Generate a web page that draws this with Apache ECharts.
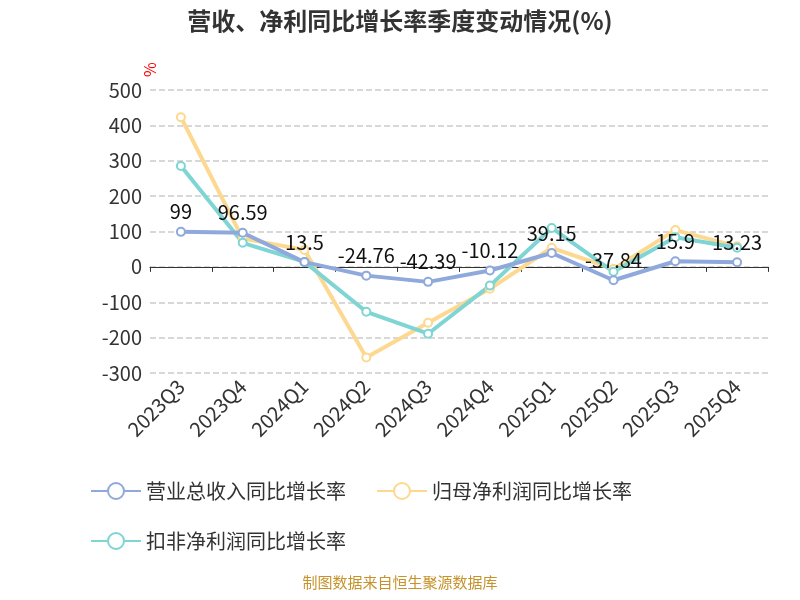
<!DOCTYPE html>
<html>
<head>
<meta charset="utf-8">
<script src="https://cdn.jsdelivr.net/npm/echarts@6/dist/echarts.min.js"></script>
<style>html,body{margin:0;padding:0;background:#fff}#chart{width:800px;height:600px}</style>
</head>
<body>
<div id="chart"></div>
<script>
const categories = ['2023Q3', '2023Q4', '2024Q1', '2024Q2', '2024Q3', '2024Q4', '2025Q1', '2025Q2', '2025Q3', '2025Q4'];
const revenue = [99, 96.59, 13.5, -24.76, -42.39, -10.12, 39.15, -37.84, 15.9, 13.23];
const netProfit = [423, 80, 48, -256, -158, -62, 54, -6, 104, 58];
const deductedProfit = [285, 68, 14, -127, -189, -53, 110, -14, 84, 54];

const chart = echarts.init(document.getElementById('chart'));
const font = 'Noto Sans CJK SC';
chart.setOption({
    textStyle: {fontFamily: font},
    title: {
        text: '营收、净利同比增长率季度变动情况(%)',
        left: 'center', top: 4,
        textStyle: {fontSize: 24, fontWeight: 'bold', color: '#333', fontFamily: font}
    },
    grid: {left: 150, right: 32, top: 90, bottom: 227},
    legend: {
        top: 476, left: 85, width: 680,
        itemWidth: 50, itemHeight: 20, itemGap: 30,
        textStyle: {fontSize: 20, color: '#333'},
        data: ['营业总收入同比增长率', '归母净利润同比增长率', '扣非净利润同比增长率']
    },
    graphic: [{
        type: 'text', left: 'center', bottom: 10,
        style: {text: '制图数据来自恒生聚源数据库', fill: '#c8922b', fontSize: 15, fontFamily: font}
    }],
    xAxis: [{
        type: 'category', data: categories,
        axisLine: {onZero: true, lineStyle: {color: '#333'}},
        axisTick: {show: true, lineStyle: {color: '#333'}},
        axisLabel: {show: false}
    }, {
        type: 'category', data: categories, position: 'bottom',
        axisLine: {show: false, onZero: false}, axisTick: {show: false},
        axisLabel: {rotate: 45, fontSize: 20, color: '#333', interval: 0, margin: 10}
    }],
    yAxis: {
        type: 'value', min: -300, max: 500, interval: 100,
        name: '%', nameRotate: 90, nameLocation: 'end', nameGap: -40,
        nameTextStyle: {color: 'red', fontSize: 16, align: 'right'},
        axisLine: {show: false}, axisTick: {show: false},
        axisLabel: {fontSize: 20, color: '#333'},
        splitLine: {lineStyle: {type: 'dashed', color: '#ccc', width: 1.5}}
    },
    series: [
        {
            name: '营业总收入同比增长率', type: 'line', data: revenue,
            symbol: 'emptyCircle', symbolSize: 8,
            itemStyle: {color: '#8fa9dc'},
            lineStyle: {width: 4, color: '#8fa9dc'},
            label: {show: true, position: 'top', fontSize: 20, color: '#111'},
            z: 5
        },
        {
            name: '归母净利润同比增长率', type: 'line', data: netProfit,
            symbol: 'emptyCircle', symbolSize: 8,
            itemStyle: {color: '#fdd890'},
            lineStyle: {width: 4, color: '#fdd890'}
        },
        {
            name: '扣非净利润同比增长率', type: 'line', data: deductedProfit,
            symbol: 'emptyCircle', symbolSize: 8,
            itemStyle: {color: '#7fd4d4'},
            lineStyle: {width: 4, color: '#7fd4d4'}
        }
    ]
});
</script>
</body>
</html>
